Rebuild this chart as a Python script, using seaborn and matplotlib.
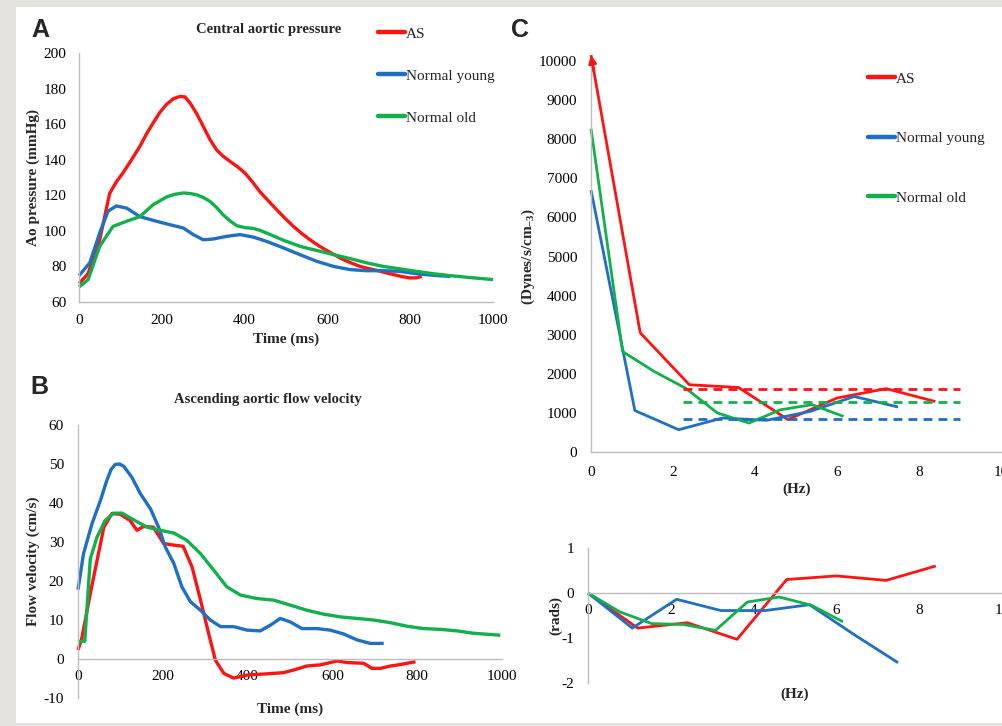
import numpy as np
import pandas as pd
import seaborn as sns
import matplotlib.pyplot as plt
from matplotlib.lines import Line2D
from matplotlib.patches import Rectangle

# ---------------- data ----------------
series_names = ["AS", "Normal young", "Normal old"]
series_colors = ["#ff1414", "#1f6fc4", "#12b04c"]

# A: central aortic pressure (mmHg) vs time (ms)
p_as_t = [0, 22, 50, 74, 90, 106, 127, 147, 163, 179, 195, 211, 228, 244, 256, 268,
          284, 300, 316, 332, 348, 365, 383, 401, 419, 437, 457, 477, 498, 518, 538,
          558, 578, 598, 619, 639, 659, 679, 699, 719, 740, 760, 780, 800, 815, 828]
p_as_v = [70.3, 76, 95, 121, 127.5, 132.5, 140, 147.5, 154.5, 160.6, 166.5, 171,
          174.3, 175.6, 175.3, 172, 166, 158.8, 151.5, 145.6, 142, 139, 136, 132.5,
          127.5, 122, 117, 112, 107, 102.5, 98.5, 95, 91.8, 89, 86.3, 83.8, 81.8,
          80, 78.8, 77.8, 76.5, 75.4, 74.3, 73.5, 73.6, 74.4]
p_young_t = [0, 26, 50, 70, 90, 115, 147, 187, 219, 252, 276, 300, 324, 356, 389,
             421, 453, 494, 534, 574, 615, 655, 695, 735, 776, 816, 856, 897]
p_young_v = [74.8, 82, 98.8, 111, 114, 112.8, 108, 105.4, 103.5, 101.6, 97.9, 95,
             95.4, 96.9, 97.9, 96.5, 94.1, 90.4, 86.6, 82.9, 80, 78.2, 77.6, 77.6,
             77.2, 75.9, 75, 74.4]
p_old_t = [0, 22, 50, 82, 115, 147, 179, 211, 232, 252, 268, 284, 300, 316, 332, 348,
           365, 381, 401, 421, 437, 453, 474, 494, 514, 534, 554, 574, 595, 615,
           655, 695, 735, 776, 816, 856, 897, 937, 1000]
p_old_v = [68.4, 72.6, 91.3, 102.5, 105.4, 108, 114.7, 119, 120.6, 121.3, 121,
           120.3, 118.8, 116.6, 113.2, 109, 105.6, 102.9, 101.8, 101.4, 100.3, 98.8,
           96.7, 94.7, 93, 91.3, 90.1, 89, 87.8, 86.6, 84.4, 82, 80, 78.6, 77.2,
           75.9, 74.8, 73.9, 72.6]

# B: ascending aortic flow velocity (cm/s) vs time (ms)
f_as_t = [0, 9, 29, 45, 61, 80, 100, 123, 139, 155, 178, 202, 226, 248, 269, 289,
          308, 324, 344, 367, 399, 446, 485, 509, 540, 572, 611, 634, 674, 693,
          713, 737, 756, 796]
f_as_v = [2.3, 5.3, 16.8, 25.3, 33.8, 37.3, 37.1, 35.5, 33, 34, 33.8, 29.6, 29.2,
          28.9, 23.6, 15.1, 6.6, -0.3, -3.7, -4.9, -4.1, -3.8, -3.5, -2.8, -1.8,
          -1.5, -0.5, -0.9, -1.1, -2.4, -2.4, -1.8, -1.5, -0.7]
f_young_t = [0, 13, 33, 53, 68, 78, 88, 98, 108, 127, 147, 171, 190, 206, 226, 245,
             265, 289, 312, 336, 367, 399, 430, 454, 477, 501, 528, 564, 595, 627,
             658, 689, 721]
f_young_v = [17.8, 27, 34.7, 40.7, 45.8, 48.6, 49.9, 50, 49.4, 46.6, 42.4, 38.5,
             33.8, 28.7, 24.5, 18.5, 14.7, 12.5, 10, 8.3, 8.3, 7.4, 7.2, 8.7, 10.4,
             9.5, 7.8, 7.8, 7.4, 6.4, 4.9, 4, 4]
f_old_t = [0, 16, 29, 45, 64, 84, 104, 131, 163, 194, 226, 257, 289, 320, 351,
           383, 422, 461, 501, 540, 579, 619, 658, 697, 737, 776, 815, 855, 894,
           933, 996]
f_old_v = [4.4, 4.6, 25.7, 31.3, 35.5, 37.4, 37.4, 35.7, 33.8, 33, 32.3, 30.4, 27,
           22.8, 18.5, 16.4, 15.5, 15.1, 13.8, 12.5, 11.5, 10.8, 10.4, 10, 9.3,
           8.4, 7.8, 7.6, 7.2, 6.6, 6.1]

# C: input impedance modulus (dynes/s/cm-3) and phase (rads) vs frequency (Hz)
z_as_hz = [0, 1.2, 2.4, 3.6, 4.8, 6.0, 7.2, 8.4]
z_as_mod = [10150, 3050, 1720, 1650, 830, 1380, 1620, 1290]
z_as_phase = [0, -0.78, -0.66, -1.03, 0.30, 0.38, 0.28, 0.60]
z_young_hz = [0, 1.07, 2.14, 3.21, 4.28, 5.35, 6.42, 7.49]
z_young_mod = [6700, 1060, 570, 870, 810, 1040, 1420, 1150]
z_young_phase = [0, -0.78, -0.14, -0.39, -0.39, -0.26, -0.92, -1.55]
z_old_hz = [0, 0.77, 1.54, 2.31, 3.08, 3.85, 4.62, 5.39, 6.16]
z_old_mod = [8270, 2570, 2060, 1630, 1000, 740, 1080, 1210, 910]
z_old_phase = [0, -0.42, -0.68, -0.70, -0.83, -0.20, -0.09, -0.27, -0.64]

# characteristic impedance (mean of higher harmonics), drawn as dashed levels
zc_levels = [1620, 850, 1270]
zc_range_hz = [2.25, 9.0]

# ---------------- style ----------------
sns.set_theme(style="white")
plt.rcParams["font.family"] = ["Liberation Serif", "DejaVu Serif"]
plt.rcParams["mathtext.fontset"] = "custom"
plt.rcParams["mathtext.rm"] = "Liberation Serif:bold"
plt.rcParams["mathtext.default"] = "rm"
plt.rcParams["axes.unicode_minus"] = False

AXIS_GRAY = "#bdbdbd"
TICK_FS = 11
LABEL_FS = 11

W, H = 1002, 726
fig = plt.figure(figsize=(W / 100, H / 100), dpi=100)
fig.patch.set_facecolor("#e4e3de")
fig.add_artist(Rectangle((16 / W, 1 - 723 / H), 1, (723 - 7) / H,
                         transform=fig.transFigure, facecolor="white",
                         edgecolor="none", zorder=0))


def px_axes(left, right, top, bottom):
    """Create axes from pixel edges (origin at top-left)."""
    return fig.add_axes([left / W, 1 - bottom / H, (right - left) / W, (bottom - top) / H])


def style_axes(ax, xpad, ypad):
    for s in ["top", "right"]:
        ax.spines[s].set_visible(False)
    for s in ["left", "bottom"]:
        ax.spines[s].set_color(AXIS_GRAY)
        ax.spines[s].set_linewidth(1.0)
    ax.tick_params(axis="both", length=0, labelsize=TICK_FS, colors="black")
    ax.tick_params(axis="x", pad=xpad)
    ax.tick_params(axis="y", pad=ypad)
    ax.set_facecolor("none")
    ax.grid(False)


def draw(ax, x, y, color, lw):
    df = pd.DataFrame({"x": x, "y": y})
    sns.lineplot(data=df, x="x", y="y", ax=ax, color=color, linewidth=lw,
                 sort=False, estimator=None, legend=False)
    for ln in ax.lines[-1:]:
        ln.set_clip_on(False)
        ln.set_solid_joinstyle("round")
        ln.set_solid_capstyle("butt")


# ---------------- panel A ----------------
axA = px_axes(79, 493, 53, 302)
for (t, v), c in zip([(p_as_t, p_as_v), (p_young_t, p_young_v), (p_old_t, p_old_v)],
                     series_colors):
    draw(axA, t, v, c, 2.4)
axA.set_xlim(0, 1000)
axA.set_ylim(60, 200)
axA.set_xticks(range(0, 1001, 200))
axA.set_yticks(range(60, 201, 20))
style_axes(axA, 9, 9)
axA.set_xlabel("Time (ms)", fontsize=LABEL_FS, fontweight="bold")
axA.set_ylabel("Ao pressure (mmHg)", fontsize=LABEL_FS, fontweight="bold")
axA.xaxis.set_label_coords(0.5, -0.124)
axA.yaxis.set_label_coords(-0.094, 0.5)

# ---------------- panel B ----------------
axB = px_axes(78, 502, 425, 698)
for (t, v), c in zip([(f_as_t, f_as_v), (f_young_t, f_young_v), (f_old_t, f_old_v)],
                     series_colors):
    draw(axB, t, v, c, 2.4)
axB.set_xlim(0, 1000)
axB.set_ylim(-10, 60)
axB.set_xticks(range(0, 1001, 200))
axB.set_yticks(range(-10, 61, 10))
style_axes(axB, 8, 10)
axB.spines["bottom"].set_position(("data", 0))
axB.set_xlabel("Time (ms)", fontsize=LABEL_FS, fontweight="bold")
axB.set_ylabel("Flow velocity (cm/s)", fontsize=LABEL_FS, fontweight="bold")
axB.xaxis.set_label_coords(0.5, -0.017)
axB.yaxis.set_label_coords(-0.09, 0.5)

# ---------------- panel C: modulus ----------------
axC = px_axes(591, 1001, 61, 452)
mods = [(z_as_hz, z_as_mod), (z_young_hz, z_young_mod), (z_old_hz, z_old_mod)]
for (f, m), c in zip(mods, series_colors):
    draw(axC, f, m, c, 2.0)
for lvl, c in zip(zc_levels, series_colors):
    axC.plot(zc_range_hz, [lvl, lvl], color=c, lw=2.0, ls=(0, (3.2, 2.2)))
# arrow marking the off-scale mean impedance of the AS series
f0, m0 = z_as_hz[0], z_as_mod[0]
f1, m1 = z_as_hz[1], z_as_mod[1]
frac = 0.06
axC.annotate("", xy=(f0, m0), xytext=(f0 + frac * (f1 - f0), m0 + frac * (m1 - m0)),
             arrowprops=dict(arrowstyle="-|>", color=series_colors[0], lw=2.0,
                             mutation_scale=11, shrinkA=0, shrinkB=0),
             annotation_clip=False)
axC.set_xlim(0, 10)
axC.set_ylim(0, 10000)
axC.set_xticks(range(0, 11, 2))
axC.set_yticks(range(0, 10001, 1000))
style_axes(axC, 10, 10)
axC.set_xlabel("(Hz)", fontsize=LABEL_FS, fontweight="bold")
axC.set_ylabel("(Dynes/s/cm$_{-3}$)", fontsize=LABEL_FS, fontweight="bold")
axC.xaxis.set_label_coords(0.502, -0.079)
axC.yaxis.set_label_coords(-0.132, 0.5)

# ---------------- panel C: phase ----------------
axP = px_axes(588, 1002, 548, 683)
phases = [(z_as_hz, z_as_phase), (z_young_hz, z_young_phase), (z_old_hz, z_old_phase)]
for (f, p), c in zip(phases, series_colors):
    draw(axP, f, p, c, 2.0)
axP.set_xlim(0, 10)
axP.set_ylim(-2, 1)
axP.set_xticks(range(0, 11, 2))
axP.set_yticks([-2, -1, 0, 1])
style_axes(axP, 8, 10)
axP.spines["bottom"].set_position(("data", 0))
axP.set_xlabel("(Hz)", fontsize=LABEL_FS, fontweight="bold")
axP.set_ylabel("(rads)", fontsize=LABEL_FS, fontweight="bold")
axP.xaxis.set_label_coords(0.5, -0.037)
axP.yaxis.set_label_coords(-0.063, 0.5)

# ---------------- legends, titles, panel letters ----------------
handles = [Line2D([], [], color=c, lw=3.2) for c in series_colors]
fig.legend(handles, series_names, loc="upper left",
           bbox_to_anchor=(378 / W, 1 - 27 / H), frameon=False, fontsize=11,
           handlelength=1.75, handletextpad=0.05, labelspacing=1.85,
           borderpad=0, borderaxespad=0)
fig.legend(handles, series_names, loc="upper left",
           bbox_to_anchor=(868 / W, 1 - 72 / H), frameon=False, fontsize=11,
           handlelength=1.75, handletextpad=0.05, labelspacing=3.0,
           borderpad=0, borderaxespad=0)

fig.text(269 / W, 1 - 30 / H, "Central aortic pressure", ha="center", va="center",
         fontsize=10.5, fontweight="bold")
fig.text(268 / W, 1 - 400 / H, "Ascending aortic flow velocity", ha="center",
         va="center", fontsize=10.5, fontweight="bold")

for letter, x, y in [("A", 31, 37), ("B", 30, 394), ("C", 511, 37)]:
    fig.text(x / W, 1 - y / H, letter, ha="left", va="baseline", fontsize=18,
             fontweight="bold", family=["Liberation Sans", "DejaVu Sans"])

fig.savefig("out.png", dpi=100, facecolor=fig.get_facecolor())
